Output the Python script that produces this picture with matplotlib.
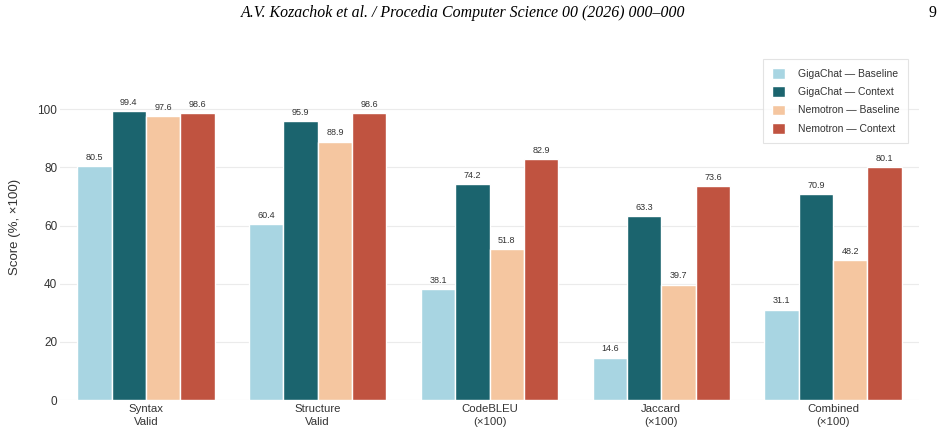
import matplotlib.pyplot as plt
import numpy as np

# data
categories = ["Syntax\nValid", "Structure\nValid", "CodeBLEU\n(×100)", "Jaccard\n(×100)", "Combined\n(×100)"]
series_names = ["GigaChat — Baseline", "GigaChat — Context", "Nemotron — Baseline", "Nemotron — Context"]
gigachat_baseline = [80.5, 60.4, 38.1, 14.6, 31.1]
gigachat_context = [99.4, 95.9, 74.2, 63.3, 70.9]
nemotron_baseline = [97.6, 88.9, 51.8, 39.7, 48.2]
nemotron_context = [98.6, 98.6, 82.9, 73.6, 80.1]
y_ticks = [0, 20, 40, 60, 80, 100]

colors = ["#a8d5e2", "#1b646e", "#f5c6a0", "#c05340"]
text_color = "#333333"

plt.rcParams['font.family'] = ['Liberation Sans', 'DejaVu Sans']

fig = plt.figure(figsize=(9.41, 4.36), dpi=100)
ax = fig.add_axes([60 / 941, 36 / 436, 859 / 941, 346 / 436])

x = np.arange(len(categories))
width = 0.2
all_series = [gigachat_baseline, gigachat_context, nemotron_baseline, nemotron_context]
for i, values in enumerate(all_series):
    offset = (i - 1.5) * width
    bars = ax.bar(x + offset, values, width, color=colors[i], edgecolor="white",
                  linewidth=1, label=series_names[i], zorder=3)
    for b, v in zip(bars, values):
        ax.annotate(f"{v:.1f}", (b.get_x() + b.get_width() / 2, v), xytext=(0, 3),
                    textcoords="offset points", ha="center", va="bottom",
                    fontsize=6.5, color=text_color)

ax.set_xlim(-0.5, 4.5)
ax.set_ylim(0, 119)
ax.set_yticks(y_ticks)
ax.set_xticks(x)
ax.set_xticklabels(categories, fontsize=8.2, color=text_color, linespacing=1.4)
ax.tick_params(axis="y", labelsize=8.5, colors=text_color, length=0, pad=2)
ax.tick_params(axis="x", length=0, pad=3)
ax.set_ylabel("Score (%, ×100)", fontsize=9.5, color=text_color, labelpad=11.5)
ax.grid(axis="y", color="#ebebeb", linewidth=0.8, zorder=0)
for s in ax.spines.values():
    s.set_visible(False)

leg = ax.legend(loc="upper right", bbox_to_anchor=(908 / 941, 1 - 59 / 436),
                bbox_transform=fig.transFigure, fontsize=7.5, frameon=True,
                handlelength=1.2, handleheight=1.2, labelspacing=0.72,
                borderpad=0.85, handletextpad=1.25, borderaxespad=0, fancybox=False)
leg.get_frame().set_edgecolor("#dddddd")
leg.get_frame().set_linewidth(0.8)
for t in leg.get_texts():
    t.set_color(text_color)

# page header of the paper
fig.text(463 / 941, 1 - 13 / 436, "A.V. Kozachok et al. / Procedia Computer Science 00 (2026) 000–000",
         ha="center", va="center", fontsize=11.4, style="italic",
         family=["Liberation Serif", "DejaVu Serif"])
fig.text(932 / 941, 1 - 13 / 436, "9", ha="center", va="center", fontsize=11.4,
         family=["Liberation Serif", "DejaVu Serif"])

fig.savefig("out.png", dpi=100)
